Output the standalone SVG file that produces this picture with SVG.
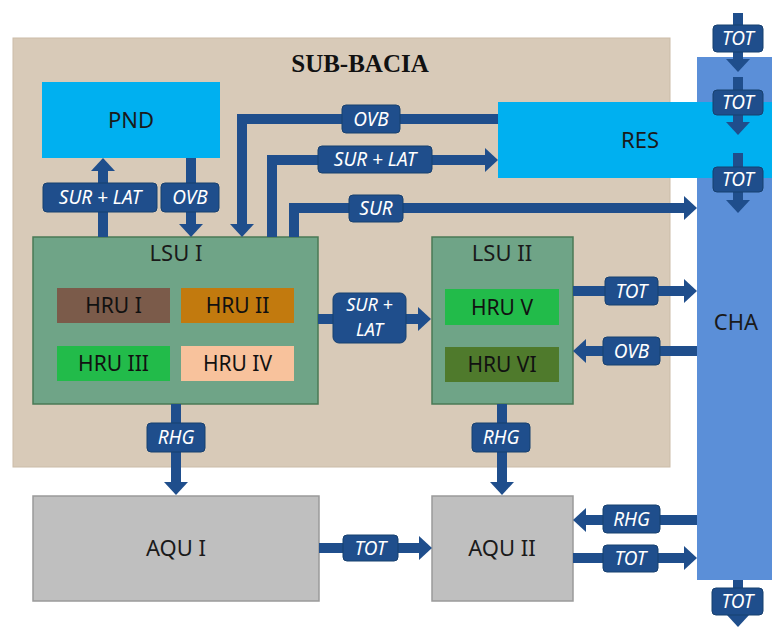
<svg xmlns="http://www.w3.org/2000/svg" width="772" height="628" viewBox="0 0 772 628">
<defs>
<marker id="ah" viewBox="0 0 13 24" refX="0" refY="12" markerWidth="13" markerHeight="24" markerUnits="userSpaceOnUse" orient="auto">
<path d="M0,0 L13,12 L0,24 z" fill="#1f4e8c"/>
</marker>
<style>
.bg{fill:#d8cab8;stroke:#cbbca8;stroke-width:1}
.cyan{fill:#00b0f0}
.cha{fill:#5b8fd8}
.lsu{fill:#6fa487;stroke:#4a7a55;stroke-width:1.5}
.aqu{fill:#bfbfbf;stroke:#9a9a9a;stroke-width:1.5}
.nl{font-family:"Noto Sans",sans-serif;font-size:22px;fill:#1a1a1a;text-anchor:middle}
.hl{font-family:"Noto Sans",sans-serif;font-size:21px;fill:#111;text-anchor:middle}
.ttl{font-family:"Liberation Serif",serif;font-size:25px;font-weight:bold;fill:#111;text-anchor:middle}
.ln{fill:none;stroke:#1f4e8c;stroke-width:10;stroke-linejoin:miter;marker-end:url(#ah)}
.lb{fill:#1f4e8c;stroke:#17406f;stroke-width:1}
.lt{font-family:"Noto Sans",sans-serif;font-size:19px;font-style:italic;fill:#ffffff;text-anchor:middle}
.lt2{font-family:"Noto Sans",sans-serif;font-size:18px;font-style:italic;fill:#ffffff;text-anchor:middle}
</style>
</defs>
<rect width="772" height="628" fill="#ffffff"/>
<g id="subbacia">
<rect class="bg" x="13" y="38" width="657" height="429"/>
<text class="ttl" x="360" y="72">SUB-BACIA</text>
</g>
<g id="cha">
<rect class="cha" x="697" y="57" width="75" height="523"/>
<text class="nl" x="736" y="330">CHA</text>
</g>
<g id="res">
<rect class="cyan" x="498" y="102" width="274" height="76"/>
<text class="nl" x="640" y="148">RES</text>
</g>
<g id="pnd">
<rect class="cyan" x="42" y="82" width="178" height="76"/>
<text class="nl" x="131" y="128">PND</text>
</g>
<g id="lsu1">
<rect class="lsu" x="33" y="237" width="285" height="167"/>
<text class="nl" x="176" y="261">LSU I</text>
</g>
<g id="hru1"><rect x="57" y="288" width="113" height="35" fill="#7b5b4a"/><text class="hl" x="113.5" y="313">HRU I</text></g>
<g id="hru2"><rect x="181" y="288" width="113" height="35" fill="#c27a0e"/><text class="hl" x="237.5" y="313">HRU II</text></g>
<g id="hru3"><rect x="57" y="346" width="113" height="35" fill="#22bb4a"/><text class="hl" x="113.5" y="371">HRU III</text></g>
<g id="hru4"><rect x="181" y="346" width="113" height="35" fill="#f8c29c"/><text class="hl" x="237.5" y="371">HRU IV</text></g>
<g id="lsu2">
<rect class="lsu" x="432" y="237" width="141" height="167"/>
<text class="nl" x="502" y="261">LSU II</text>
</g>
<g id="hru5"><rect x="445" y="289" width="114" height="36" fill="#22bb4a"/><text class="hl" x="502" y="315">HRU V</text></g>
<g id="hru6"><rect x="445" y="347" width="114" height="35" fill="#4f7a2c"/><text class="hl" x="502" y="372">HRU VI</text></g>
<g id="aqu1">
<rect class="aqu" x="33" y="496" width="286" height="105"/>
<text class="nl" x="176" y="556">AQU I</text>
</g>
<g id="aqu2">
<rect class="aqu" x="432" y="496" width="141" height="105"/>
<text class="nl" x="502" y="556">AQU II</text>
</g>
<g id="connectors">
<path class="ln" d="M103,237 V171"/>
<path class="ln" d="M191,158 V224"/>
<path class="ln" d="M498,119 H242 V224"/>
<path class="ln" d="M272,237 V160 H485"/>
<path class="ln" d="M294,237 V208 H684"/>
<path class="ln" d="M318,319 H418"/>
<path class="ln" d="M573,291 H684"/>
<path class="ln" d="M697,351 H586"/>
<path class="ln" d="M176,404 V482"/>
<path class="ln" d="M502,404 V482"/>
<path class="ln" d="M319,548 H419"/>
<path class="ln" d="M697,520 H586"/>
<path class="ln" d="M573,558 H684"/>
<path class="ln" d="M738,13 V59"/>
<path class="ln" d="M738,77 V122"/>
<path class="ln" d="M738,153 V200"/>
<path class="ln" d="M738,580 V614"/>
<rect class="lb" x="43" y="183" width="114" height="29" rx="4"/><text class="lt" x="100" y="204">SUR + LAT</text>
<rect class="lb" x="161" y="183" width="58" height="29" rx="4"/><text class="lt" x="190" y="204">OVB</text>
<rect class="lb" x="342" y="105" width="58" height="28" rx="4"/><text class="lt" x="371" y="126">OVB</text>
<rect class="lb" x="318" y="146" width="114" height="27" rx="4"/><text class="lt" x="375" y="166">SUR + LAT</text>
<rect class="lb" x="349" y="195" width="54" height="27" rx="4"/><text class="lt" x="376" y="215">SUR</text>
<rect class="lb" x="333" y="293" width="73" height="50" rx="6"/><text class="lt2" x="369.5" y="311">SUR +</text><text class="lt2" x="369.5" y="336">LAT</text>
<rect class="lb" x="605" y="277" width="53" height="28" rx="4"/><text class="lt" x="631.5" y="298">TOT</text>
<rect class="lb" x="603" y="337" width="57" height="28" rx="4"/><text class="lt" x="631.5" y="358">OVB</text>
<rect class="lb" x="147" y="423" width="58" height="29" rx="4"/><text class="lt" x="176" y="444">RHG</text>
<rect class="lb" x="472" y="423" width="58" height="29" rx="4"/><text class="lt" x="501" y="444">RHG</text>
<rect class="lb" x="343" y="535" width="55" height="26" rx="4"/><text class="lt" x="370.5" y="555">TOT</text>
<rect class="lb" x="603" y="505" width="57" height="28" rx="4"/><text class="lt" x="631.5" y="526">RHG</text>
<rect class="lb" x="603" y="545" width="55" height="27" rx="4"/><text class="lt" x="630.5" y="565">TOT</text>
<rect class="lb" x="713" y="25" width="50" height="27" rx="4"/><text class="lt" x="738" y="45">TOT</text>
<rect class="lb" x="713" y="90" width="50" height="25" rx="4"/><text class="lt" x="738" y="109">TOT</text>
<rect class="lb" x="713" y="167" width="50" height="25" rx="4"/><text class="lt" x="738" y="186">TOT</text>
<rect class="lb" x="712" y="588" width="51" height="27" rx="4"/><text class="lt" x="737.5" y="608">TOT</text>
</g>
</svg>
